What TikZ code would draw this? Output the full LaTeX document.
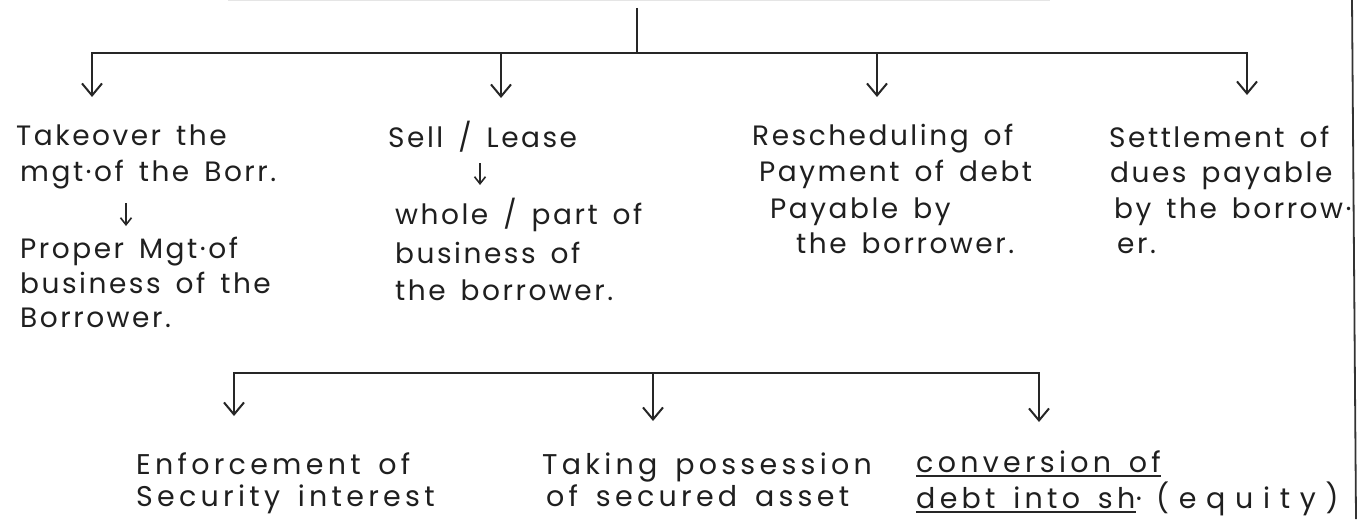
\documentclass[tikz,border=0pt]{standalone}
\usepackage{fontspec}
\newfontfamily\hand[LetterSpace=9,WordSpace=1.5]{Poppins}
\newfontfamily\handwide[LetterSpace=15,WordSpace=1.5]{Poppins}
\newfontfamily\handspread[LetterSpace=34]{Poppins}
\usetikzlibrary{arrows.meta}
\begin{document}
\begin{tikzpicture}[x=1pt,y=-1pt,
  hw/.style={anchor=base west, inner sep=0pt, font=\hand\fontsize{28}{32}\selectfont, text=black!88},
  hwb/.style={hw, font=\handwide\fontsize{28.5}{32}\selectfont},
  link/.style={line width=2pt, draw=black!85},
  drop/.style={link, -{Straight Barb[length=12pt,width=20pt]}},
  minidrop/.style={line width=1.6pt, draw=black!85, -{Straight Barb[length=7pt,width=11pt]}},
  uline/.style={line width=1.6pt, draw=black!85},
]
\useasboundingbox (0,0) rectangle (1364,519);
\fill[white] (0,0) rectangle (1364,519);

% faint lower edge of the heading above
\coordinate (hl) at (228,0.8);
\coordinate (hr) at (1050,0.8);
\draw[line width=1pt, black!10] (hl) -- (hr);

% right margin rule
\coordinate (rt) at (1352,0);
\coordinate (rb) at (1356,519);
\draw[line width=1.8pt, black!80] (rt) -- (rb);

% ---------- first level ----------
\coordinate (root) at (637,8);
\coordinate (j0) at (637,53);
\coordinate (a1) at (92,97);
\coordinate (a2) at (501,98);
\coordinate (a3) at (877,97);
\coordinate (a4) at (1247,95);
\coordinate (c2) at (501,53);
\coordinate (c3) at (877,53);

\draw[link] (root) -- (j0);
\draw[drop] (j0) -| (a1);
\draw[drop] (j0) -| (a4);
\draw[drop] (c2) -- (a2);
\draw[drop] (c3) -- (a3);

% column 1: takeover of management
\node[hw] (t1) at (16,145) {Takeover the};
\node[hw] (t2) at (20,181) {mgt·of the Borr.};
\node[hw] (t3) at (20,258) {Proper Mgt·of};
\node[hw] (t4) at (20,293) {business of the};
\node[hw] (t5) at (20,327) {Borrower.};
\coordinate (m1a) at (126,203);
\coordinate (m1b) at (126,226);
\draw[minidrop] (m1a) -- (m1b);

% column 2: sale or lease
\node[hw] (s1) at (388,147) {Sell / Lease};
\node[hw] (s2) at (395,224) {whole / part of};
\node[hw] (s3) at (395,263) {business of};
\node[hw] (s4) at (395,300) {the borrower.};
\coordinate (m2a) at (480,163);
\coordinate (m2b) at (480,185);
\draw[minidrop] (m2a) -- (m2b);

% column 3: rescheduling
\node[hw] (r1) at (752,145) {Rescheduling of};
\node[hw] (r2) at (759,181) {Payment of debt};
\node[hw] (r3) at (770,218) {Payable by};
\node[hw] (r4) at (796,253) {the borrower.};

% column 4: settlement
\node[hw] (e1) at (1109,147) {Settlement of};
\node[hw] (e2) at (1110,182) {dues payable};
\node[hw] (e3) at (1114,218) {by the borrow·};
\node[hw] (e4) at (1117,253) {er.};

% ---------- second level ----------
\coordinate (k0) at (653,373);
\coordinate (d1) at (234,416);
\coordinate (d2) at (653,421);
\coordinate (d3) at (1039,422);

\draw[drop] (k0) -| (d1);
\draw[drop] (k0) -| (d3);
\draw[drop] (k0) -- (d2);

\node[hwb] (f1) at (136,474) {Enforcement of};
\node[hwb] (f2) at (136,506) {Security interest};
\node[hwb] (p1) at (542,474) {Taking possession};
\node[hwb] (p2) at (546,506) {of secured asset};
\node[hwb] (v1) at (916,472) {conversion of};
\node[hwb] (v2) at (916,508) {debt into sh};
\node[hwb] (v3) at (v2.base east) {·};
\node[hwb, font=\handspread\fontsize{28.5}{32}\selectfont] (v4) at (1156,508) {(equity)};

\draw[uline] ([yshift=-4pt]v1.base west) -- ([yshift=-4pt]v1.base east);
\draw[uline] ([yshift=-4pt]v2.base west) -- ([yshift=-4pt]v2.base east);
\end{tikzpicture}
\end{document}
